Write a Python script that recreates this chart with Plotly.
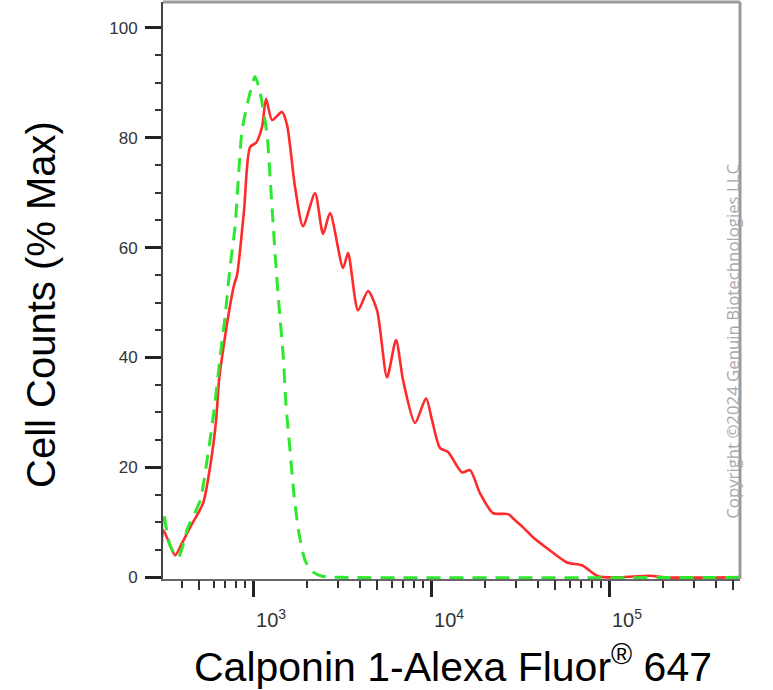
import plotly.graph_objects as go

# ---- data ----
red_x = [305, 313, 340, 365, 400, 443, 524, 573, 620, 644, 678, 743, 782, 813, 890, 962,
         1040, 1124, 1183, 1279, 1455, 1553, 1722, 1909, 2230, 2474, 2708, 3203, 3418, 3890,
         4426, 4974, 5660, 6358, 6962, 8130, 9375, 10130, 11240, 12460, 14930, 16560, 18840,
         22290, 27090, 29650, 32870, 37420, 44850, 58070, 70470, 86720, 115300, 169900,
         206400, 600000]
red_y = [0, 8.6, 6.0, 4.0, 6.3, 9.1, 13.5, 20.0, 28.6, 35.9, 41.3, 49.5, 53.2, 55.0, 66.8, 78.3,
         79.1, 82.0, 87.1, 83.2, 84.7, 82.3, 71.0, 63.9, 69.9, 62.5, 66.3, 56.3, 59.0, 48.6,
         52.1, 48.6, 36.4, 43.2, 35.9, 28.1, 32.6, 28.6, 23.5, 22.8, 19.1, 19.5, 15.3,
         11.7, 11.5, 10.4, 9.1, 7.3, 5.3, 2.7, 2.2, 0.2, 0, 0.3,
         0, 0]

green_x = [305, 312, 342, 379, 431, 504, 559, 604, 653, 696, 743, 792, 824, 868, 962, 1026,
           1095, 1199, 1246, 1295, 1346, 1400, 1474, 1532, 1614, 1700, 1812, 1960, 2145,
           2442, 3082, 600000]
green_y = [0, 11.8, 5.8, 3.6, 9.1, 14.0, 22.6, 30.4, 40.1, 47.4, 56.5, 63.8, 71.8, 81.4, 88.2,
           91.1, 88.2, 80.5, 72.9, 64.5, 56.5, 49.2, 40.8, 31.3, 23.1, 14.9, 8.0, 3.1, 1.1,
           0.2, 0, 0]

x_major = [1e3, 1e4, 1e5]
x_major_text = ["10<sup>3</sup>", "10<sup>4</sup>", "10<sup>5</sup>"]
x_minor = [400, 500, 600, 700, 800, 900,
           2000, 3000, 4000, 5000, 6000, 7000, 8000, 9000,
           20000, 30000, 40000, 50000, 60000, 70000, 80000, 90000,
           200000, 300000, 400000, 500000]
x_mid = [500, 5000, 50000, 500000]
y_major = [0, 20, 40, 60, 80, 100]

x_range = [2.494, 5.736]
y_range = [-0.3, 104.7]

fig = go.Figure()
fig.add_trace(go.Scatter(x=red_x, y=red_y, mode="lines",
                         line=dict(color="#ff2a2a", width=2.6, shape="spline", smoothing=0.7),
                         showlegend=False))
fig.add_trace(go.Scatter(x=green_x, y=green_y, mode="lines",
                         line=dict(color="#2ee82e", width=3, dash="14px,9px",
                                   shape="spline", smoothing=0.7),
                         showlegend=False))
# extra axis for the slightly longer 5x minor ticks
fig.add_trace(go.Scatter(x=[1000], y=[0], xaxis="x2", mode="markers",
                         marker=dict(opacity=0), showlegend=False, hoverinfo="skip"))

ytickfont = dict(family="Liberation Sans, Arial", size=17, color="#333333")
xtickfont = dict(family="Liberation Sans Narrow, Arial Narrow, Liberation Sans", size=20,
                 color="#333333")

fig.update_layout(
    template="none",
    width=773, height=690,
    margin=dict(l=163, r=33, t=2, b=111, autoexpand=False),
    paper_bgcolor="white", plot_bgcolor="white",
    xaxis=dict(type="log", range=x_range, showgrid=False, zeroline=False, automargin=False,
               showline=True, linecolor="#666666", linewidth=2, layer="below traces",
               tickmode="array", tickvals=x_major, ticktext=x_major_text,
               ticks="outside", ticklen=16, tickwidth=3, tickcolor="#222222",
               tickfont=xtickfont, ticklabelshift=18, ticklabelstandoff=6,
               minor=dict(tickmode="array", tickvals=x_minor, ticks="outside",
                          ticklen=7, tickwidth=1.5, tickcolor="#333333")),
    xaxis2=dict(type="log", range=x_range, overlaying="x", anchor="y", side="bottom",
                showgrid=False, zeroline=False, showline=False, automargin=False,
                tickmode="array", tickvals=x_mid, ticks="outside", ticklen=10,
                tickwidth=1.5, tickcolor="#333333", showticklabels=False),
    yaxis=dict(range=y_range, showgrid=False, zeroline=False, automargin=False,
               showline=True, linecolor="#444444", linewidth=2, layer="below traces",
               tickmode="array", tickvals=y_major,
               ticks="outside", ticklen=16, tickwidth=3, tickcolor="#222222",
               tickfont=ytickfont, ticklabelstandoff=4,
               minor=dict(dtick=5, ticks="outside", ticklen=6, tickwidth=1.5,
                          tickcolor="#333333")),
    shapes=[
        dict(type="line", xref="paper", yref="paper", x0=0, x1=1, y0=1, y1=1,
             line=dict(color="#9a9a9a", width=3)),
        dict(type="line", xref="paper", yref="paper", x0=1, x1=1, y0=0, y1=1,
             line=dict(color="#9a9a9a", width=3)),
    ],
    annotations=[
        dict(text="Cell Counts (% Max)", xref="paper", yref="paper",
             x=-0.2114, y=0.475, xanchor="center", yanchor="middle", textangle=-90,
             showarrow=False, font=dict(family="Liberation Sans, Arial", size=40,
                                        color="black")),
        dict(text="Calponin 1-Alexa Fluor<sup>®</sup> 647", xref="paper", yref="paper",
             x=0.503, y=-0.1475, xanchor="center", yanchor="middle",
             showarrow=False, font=dict(family="Liberation Sans, Arial", size=41,
                                        color="black")),
        dict(text="Copyright ©2024 Genuin Biotechnologies LLC", xref="paper", yref="paper",
             x=0.987, y=0.412, xanchor="center", yanchor="middle", textangle=-90,
             showarrow=False, font=dict(family="Open Sans", size=16.8, color="#a8a8a8")),
    ],
)

fig.write_html("out.html", config={"displayModeBar": False},
               post_script="document.body.style.margin='0';")
